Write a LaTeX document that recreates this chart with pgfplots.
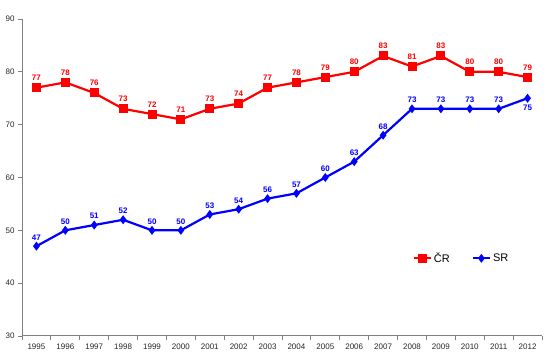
\documentclass[border=0pt]{standalone}
\usepackage{fontspec}
\setmainfont{Liberation Sans}
\usepackage{pgfplots}
\pgfplotsset{compat=1.18}
\definecolor{axgray}{RGB}{128,128,128}
\definecolor{cred}{RGB}{255,0,0}
\definecolor{cblue}{RGB}{0,0,255}
\begin{document}
\begin{tikzpicture}
\begin{axis}[
  scale only axis, width=520pt, height=317pt,
  xmin=-0.5, xmax=17.5, ymin=30, ymax=90,
  axis x line*=bottom, axis y line*=left,
  axis line style={axgray, line width=1pt},
  ytick={30,40,...,90},
  xtick={0,...,17},
  xticklabels={1995,1996,1997,1998,1999,2000,2001,2002,2003,2004,2005,2006,2007,2008,2009,2010,2011,2012},
  minor xtick={-0.5,0.5,...,17.5},
  x tick style={draw=none},
  minor x tick style={draw=axgray, line width=0.8pt},
  y tick style={draw=axgray, line width=0.8pt},
  tick align=outside,
  major tick length=4pt, minor tick length=4pt,
  tick label style={font=\fontsize{8}{9}\selectfont, text=black!85},
  /pgf/number format/assume math mode=true,
  legend style={at={(rel axis cs:0.745,0.245)}, anchor=west, draw=none, fill=none,
    font=\fontsize{11}{13}\selectfont, legend columns=2,
    /tikz/every even column/.append style={column sep=20pt}},
  nodes near coords style={font=\bfseries\fontsize{8}{9}\selectfont, anchor=south, yshift=2.5pt},
]
\coordinate (sw) at (rel axis cs:0,0);
\coordinate (ne) at (rel axis cs:1,1);
\addplot[cred, line width=2.2pt, mark=square*, mark size=3.4pt, mark options={solid},
  nodes near coords, every node near coord/.append style={text=cred}]
  coordinates {(0,77)(1,78)(2,76)(3,73)(4,72)(5,71)(6,73)(7,74)(8,77)(9,78)(10,79)(11,80)(12,83)(13,81)(14,83)(15,80)(16,80)(17,79)};
\addlegendentry{ČR}
\addplot[cblue, line width=2.2pt, mark=diamond*, mark size=2.7pt, mark options={solid}]
  coordinates {(0,47)(1,50)(2,51)(3,52)(4,50)(5,50)(6,53)(7,54)(8,56)(9,57)(10,60)(11,63)(12,68)(13,73)(14,73)(15,73)(16,73)(17,75)};
\addlegendentry{SR}
\addplot[draw=none, mark=none, forget plot,
  nodes near coords, every node near coord/.append style={text=cblue}]
  coordinates {(0,47)(1,50)(2,51)(3,52)(4,50)(5,50)(6,53)(7,54)(8,56)(9,57)(10,60)(11,63)(12,68)(13,73)(14,73)(15,73)(16,73)};
\addplot[draw=none, mark=none, forget plot,
  nodes near coords, every node near coord/.append style={text=cblue, anchor=north, yshift=-5.5pt}]
  coordinates {(17,75)};
\end{axis}
\pgfresetboundingbox
\path[use as bounding box] ([xshift=-22pt,yshift=-22pt]sw) rectangle ([xshift=11pt,yshift=19pt]ne);
\end{tikzpicture}
\end{document}
